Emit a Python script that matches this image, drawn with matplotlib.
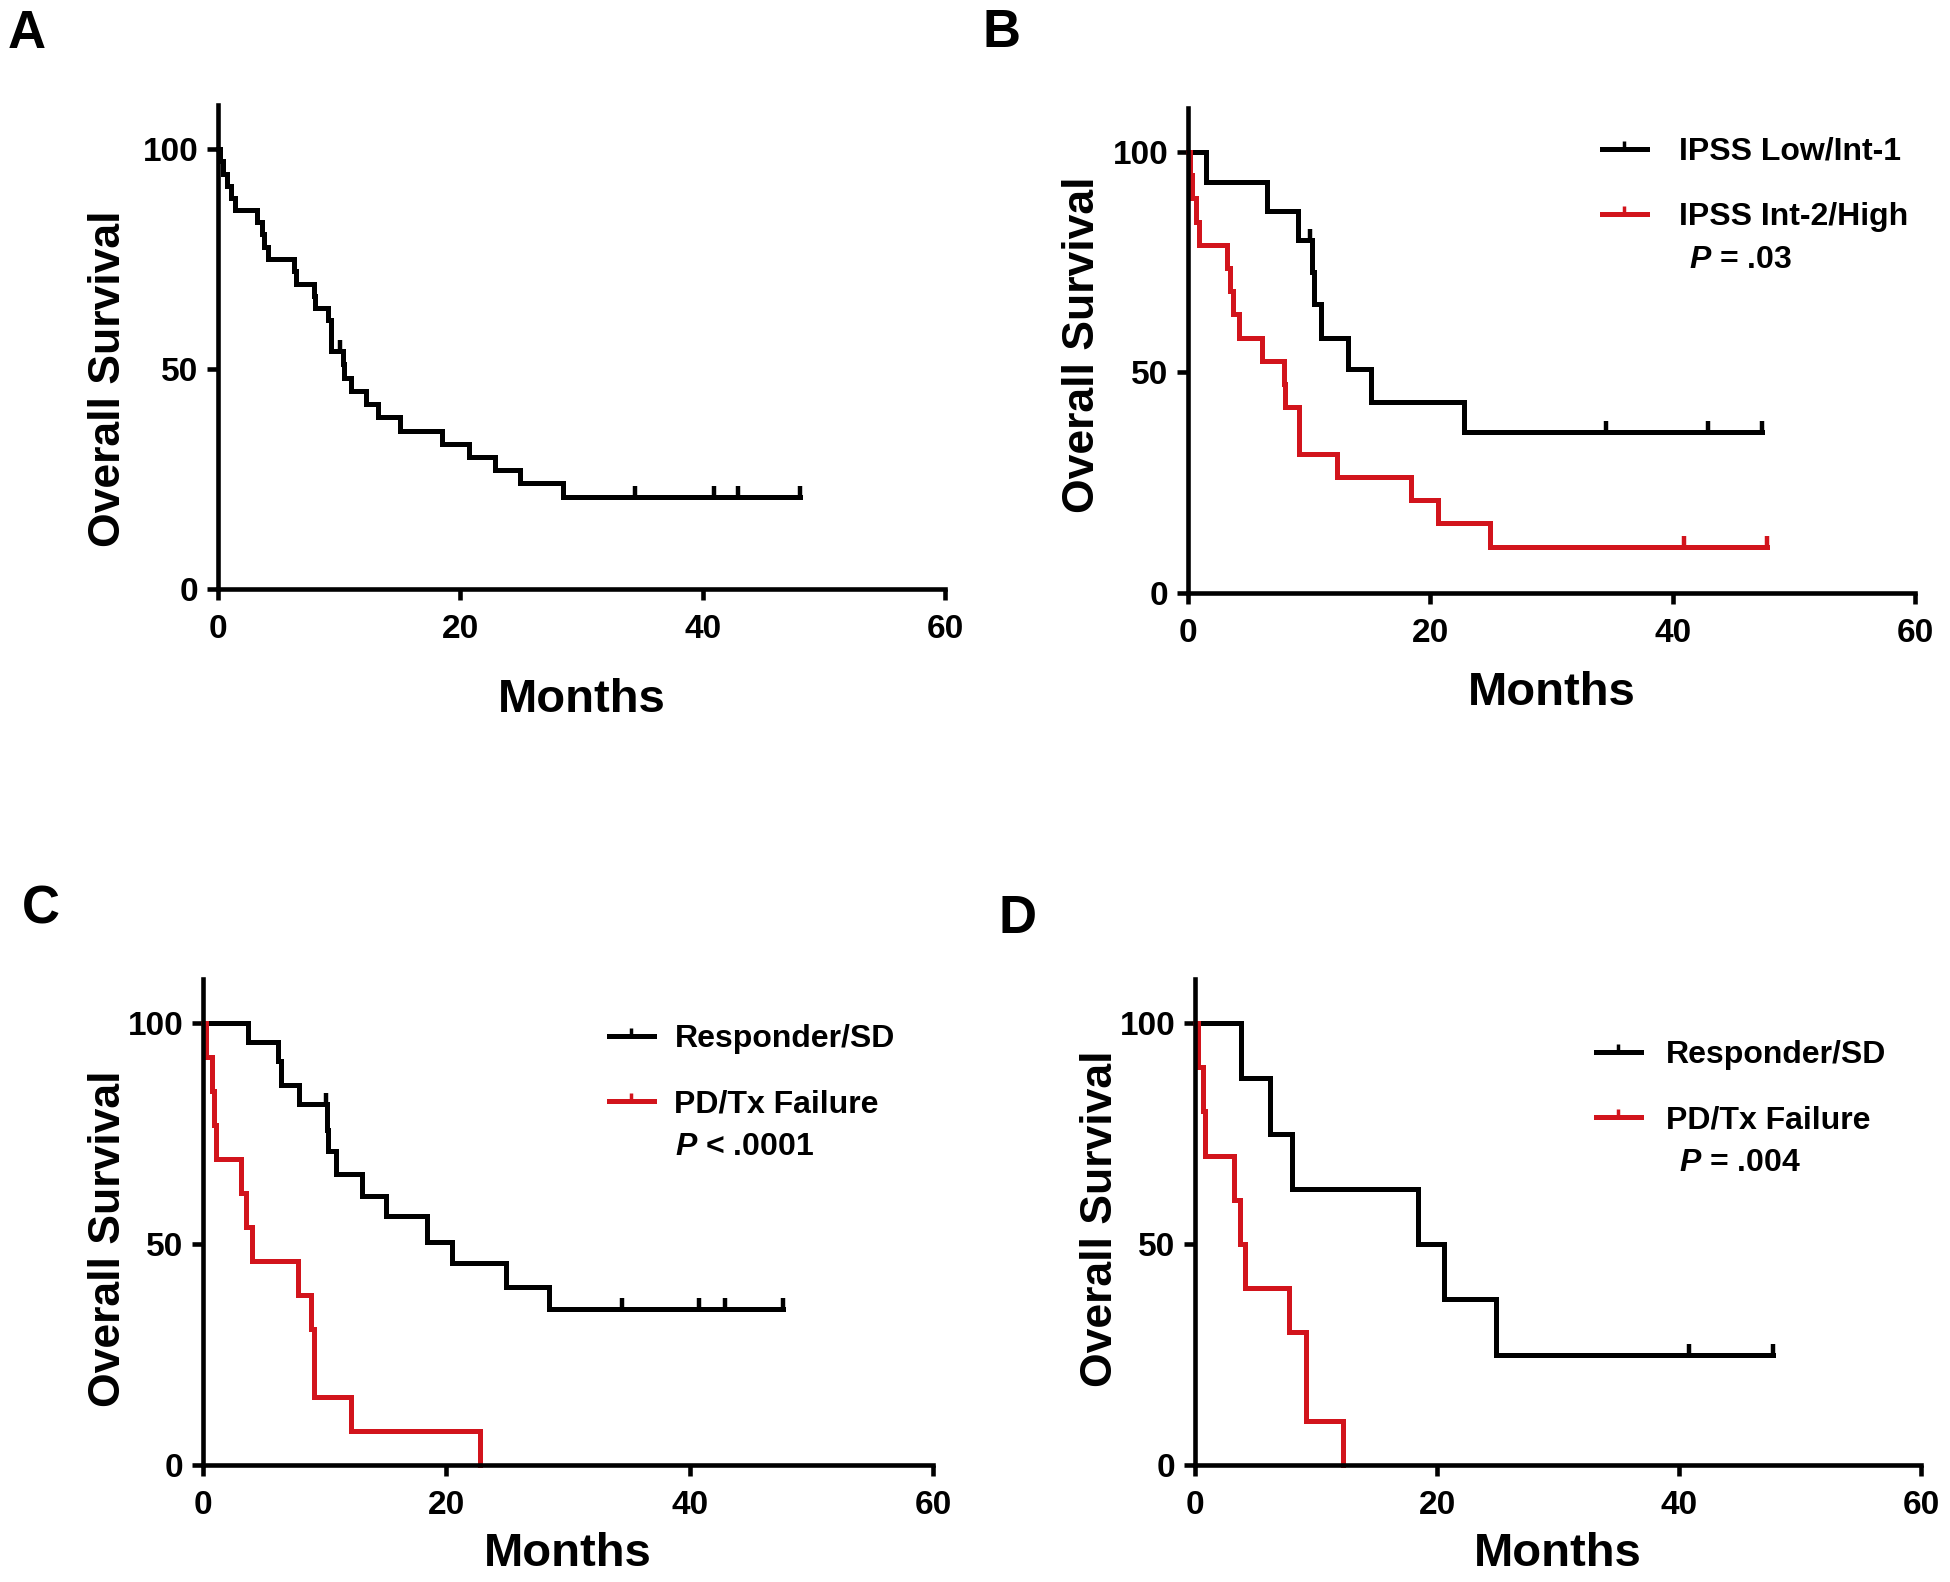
import numpy as np
import matplotlib.pyplot as plt
from matplotlib import font_manager
from matplotlib.lines import Line2D

# ---- dados (meses, % sobrevida) ----
# Painel A - todos os pacientes
a_t = [0, 0.2, 0.45, 0.75, 1.1, 1.4, 3.2, 3.6, 3.8, 4.1, 6.3, 6.4, 7.9, 8.0, 9.1, 9.3,
       10.3, 10.4, 11.0, 12.2, 13.2, 15.0, 18.5, 20.7, 22.9, 24.9, 28.5]
a_s = [100, 97.2, 94.4, 91.7, 88.9, 86.1, 83.3, 80.6, 77.8, 75.0, 72.2, 69.4, 66.7, 63.9, 61.1, 54.0,
       51.2, 48.0, 45.0, 42.0, 39.0, 36.0, 33.0, 30.0, 27.0, 24.0, 21.0]
a_cens = [10.1, 34.4, 40.9, 42.9, 48.0]
a_end = 48.0

# Painel B - IPSS
b1_t = [0, 1.5, 6.5, 9.1, 10.2, 10.4, 11.0, 13.2, 15.1, 22.8]
b1_s = [100, 93.3, 86.7, 80.0, 72.7, 65.5, 57.8, 50.8, 43.4, 36.4]
b1_cens = [10.1, 34.5, 42.9, 47.4]
b1_end = 47.4
b2_t = [0, 0.15, 0.3, 0.7, 0.9, 3.2, 3.5, 3.7, 4.2, 6.1, 7.9, 8.0, 9.2, 12.3, 18.4, 20.6, 24.9]
b2_s = [100, 94.7, 89.5, 84.2, 78.9, 73.7, 68.4, 63.2, 57.9, 52.6, 47.4, 42.1, 31.6, 26.3, 21.1, 15.8, 10.5]
b2_cens = [40.9, 47.8]
b2_end = 47.8

# Painel C - resposta
c1_t = [0, 3.7, 6.2, 6.4, 7.9, 10.2, 10.3, 10.9, 13.1, 15.0, 18.4, 20.5, 24.9, 28.4]
c1_s = [100, 95.7, 91.3, 86.0, 81.6, 75.7, 71.1, 65.8, 60.8, 56.3, 50.4, 45.6, 40.3, 35.4]
c1_cens = [10.1, 34.4, 40.8, 42.9, 47.7]
c1_end = 47.7
c2_t = [0, 0.26, 0.7, 0.9, 1.1, 3.1, 3.5, 4.0, 7.8, 8.9, 9.1, 12.2, 22.8]
c2_s = [100, 92.3, 84.6, 76.9, 69.2, 61.5, 53.8, 46.2, 38.5, 30.8, 15.4, 7.7, 0]
c2_cens = []
c2_end = 22.8

# Painel D - resposta (subgrupo)
d1_t = [0, 3.8, 6.2, 8.0, 18.4, 20.6, 24.9]
d1_s = [100, 87.5, 75.0, 62.5, 50.0, 37.5, 25.0]
d1_cens = [40.8, 47.8]
d1_end = 47.8
d2_t = [0, 0.26, 0.7, 0.8, 3.2, 3.7, 4.1, 7.8, 9.2, 12.2]
d2_s = [100, 90, 80, 70, 60, 50, 40, 30, 10, 0]
d2_cens = []
d2_end = 12.2

legend_b = ["IPSS Low/Int-1", "IPSS Int-2/High"]
legend_cd = ["Responder/SD", "PD/Tx Failure"]
p_b = r"$P$ = .03"
p_c = r"$P$ < .0001"
p_d = r"$P$ = .004"

x_ticks = [0, 20, 40, 60]
y_ticks = [0, 50, 100]

PRETO = "black"
VERMELHO = "#d2141c"

plt.rcParams["font.family"] = ["Liberation Sans", "DejaVu Sans"]
plt.rcParams["font.weight"] = "bold"
plt.rcParams["mathtext.fontset"] = "custom"
plt.rcParams["mathtext.it"] = "Liberation Sans:italic:bold"
plt.rcParams["mathtext.rm"] = "Liberation Sans:bold"

# fonte estreita para as legendas, se existir
try:
    font_manager.findfont(font_manager.FontProperties(family="Liberation Sans Narrow"),
                          fallback_to_default=False)
    fam_leg = ["Liberation Sans Narrow", "Liberation Sans"]
    tam_leg = 27
except Exception:
    fam_leg = ["Liberation Sans", "DejaVu Sans"]
    tam_leg = 23

W, H = 1950, 1582
fig = plt.figure(figsize=(W / 100, H / 100), dpi=100)


def curva(ax, t, s, end, cens, cor):
    tt = list(t) + [end]
    ss = list(s) + [s[-1]]
    ax.step(tt, ss, where="post", color=cor, lw=3.6, clip_on=False, solid_joinstyle="miter")
    if cens:
        idx = np.searchsorted(t, cens, side="right") - 1
        ax.plot(cens, np.array(s)[idx], linestyle="none", marker=2, ms=8, mew=3.2,
                color=cor, clip_on=False)


def painel(x0, x60, y0, y100, ylab_pos, xlab_off):
    # posicoes em pixels da figura (origem no topo)
    px_per_unit = (y0 - y100) / 100.0
    top = y0 - 110 * px_per_unit
    ax = fig.add_axes([x0 / W, 1 - y0 / H, (x60 - x0) / W, (y0 - top) / H])
    ax.set_xlim(0, 60)
    ax.set_ylim(0, 110)
    ax.set_xticks(x_ticks)
    ax.set_yticks(y_ticks)
    for lado in ["top", "right"]:
        ax.spines[lado].set_visible(False)
    for lado in ["left", "bottom"]:
        ax.spines[lado].set_linewidth(3.3)
    ax.tick_params(direction="out", length=8, width=3.3, labelsize=24)
    ax.tick_params(axis="x", pad=10)
    ax.tick_params(axis="y", pad=6)
    ax.set_ylabel("Overall Survival", fontsize=32, fontweight="bold", va="center")
    ax.set_xlabel("Months", fontsize=34, fontweight="bold", va="center")
    ax.yaxis.set_label_coords((ylab_pos[0] - x0) / (x60 - x0), (y0 - ylab_pos[1]) / (y0 - top))
    ax.xaxis.set_label_coords(0.5, -xlab_off / (y0 - top))
    return ax


def legenda(ax, nomes, left, top, pval, pxy, pad):
    handles = [Line2D([], [], color=c, lw=3.6, marker=2, ms=6, mew=2.5) for c in (PRETO, VERMELHO)]
    ax.legend(handles, nomes, loc="upper left", bbox_to_anchor=(left / W, 1 - top / H),
              bbox_transform=fig.transFigure, frameon=False, numpoints=1,
              prop={"family": fam_leg, "weight": "bold", "size": tam_leg},
              handlelength=1.4, handletextpad=pad, labelspacing=1.1,
              borderpad=0, borderaxespad=0)
    fig.text(pxy[0] / W, 1 - pxy[1] / H, pval, fontsize=tam_leg, fontweight="bold",
             family=fam_leg, ha="left", va="center")


# A
axA = painel(218, 945, 589, 149, (109, 379), 111)
curva(axA, a_t, a_s, a_end, a_cens, PRETO)

# B
axB = painel(1188, 1915, 593, 152, (1082, 345), 100)
curva(axB, b1_t, b1_s, b1_end, b1_cens, PRETO)
curva(axB, b2_t, b2_s, b2_end, b2_cens, VERMELHO)
legenda(axB, legend_b, 1602, 137, p_b, (1689, 260), 1.0)

# C
axC = painel(203, 933, 1465, 1023, (109, 1239), 89)
curva(axC, c1_t, c1_s, c1_end, c1_cens, PRETO)
curva(axC, c2_t, c2_s, c2_end, c2_cens, VERMELHO)
legenda(axC, legend_cd, 609, 1024, p_c, (675, 1147), 0.65)

# D
axD = painel(1195, 1921, 1465, 1023, (1101, 1219), 89)
curva(axD, d1_t, d1_s, d1_end, d1_cens, PRETO)
curva(axD, d2_t, d2_s, d2_end, d2_cens, VERMELHO)
legenda(axD, legend_cd, 1596, 1040, p_d, (1679, 1163), 0.8)

# letras dos paineis
for letra, x, y in [("A", 8, 48), ("B", 982, 47), ("C", 22, 923), ("D", 998, 933)]:
    fig.text(x / W, 1 - y / H, letra, fontsize=38, fontweight="bold", ha="left", va="baseline")

fig.savefig("out.png", dpi=100)
